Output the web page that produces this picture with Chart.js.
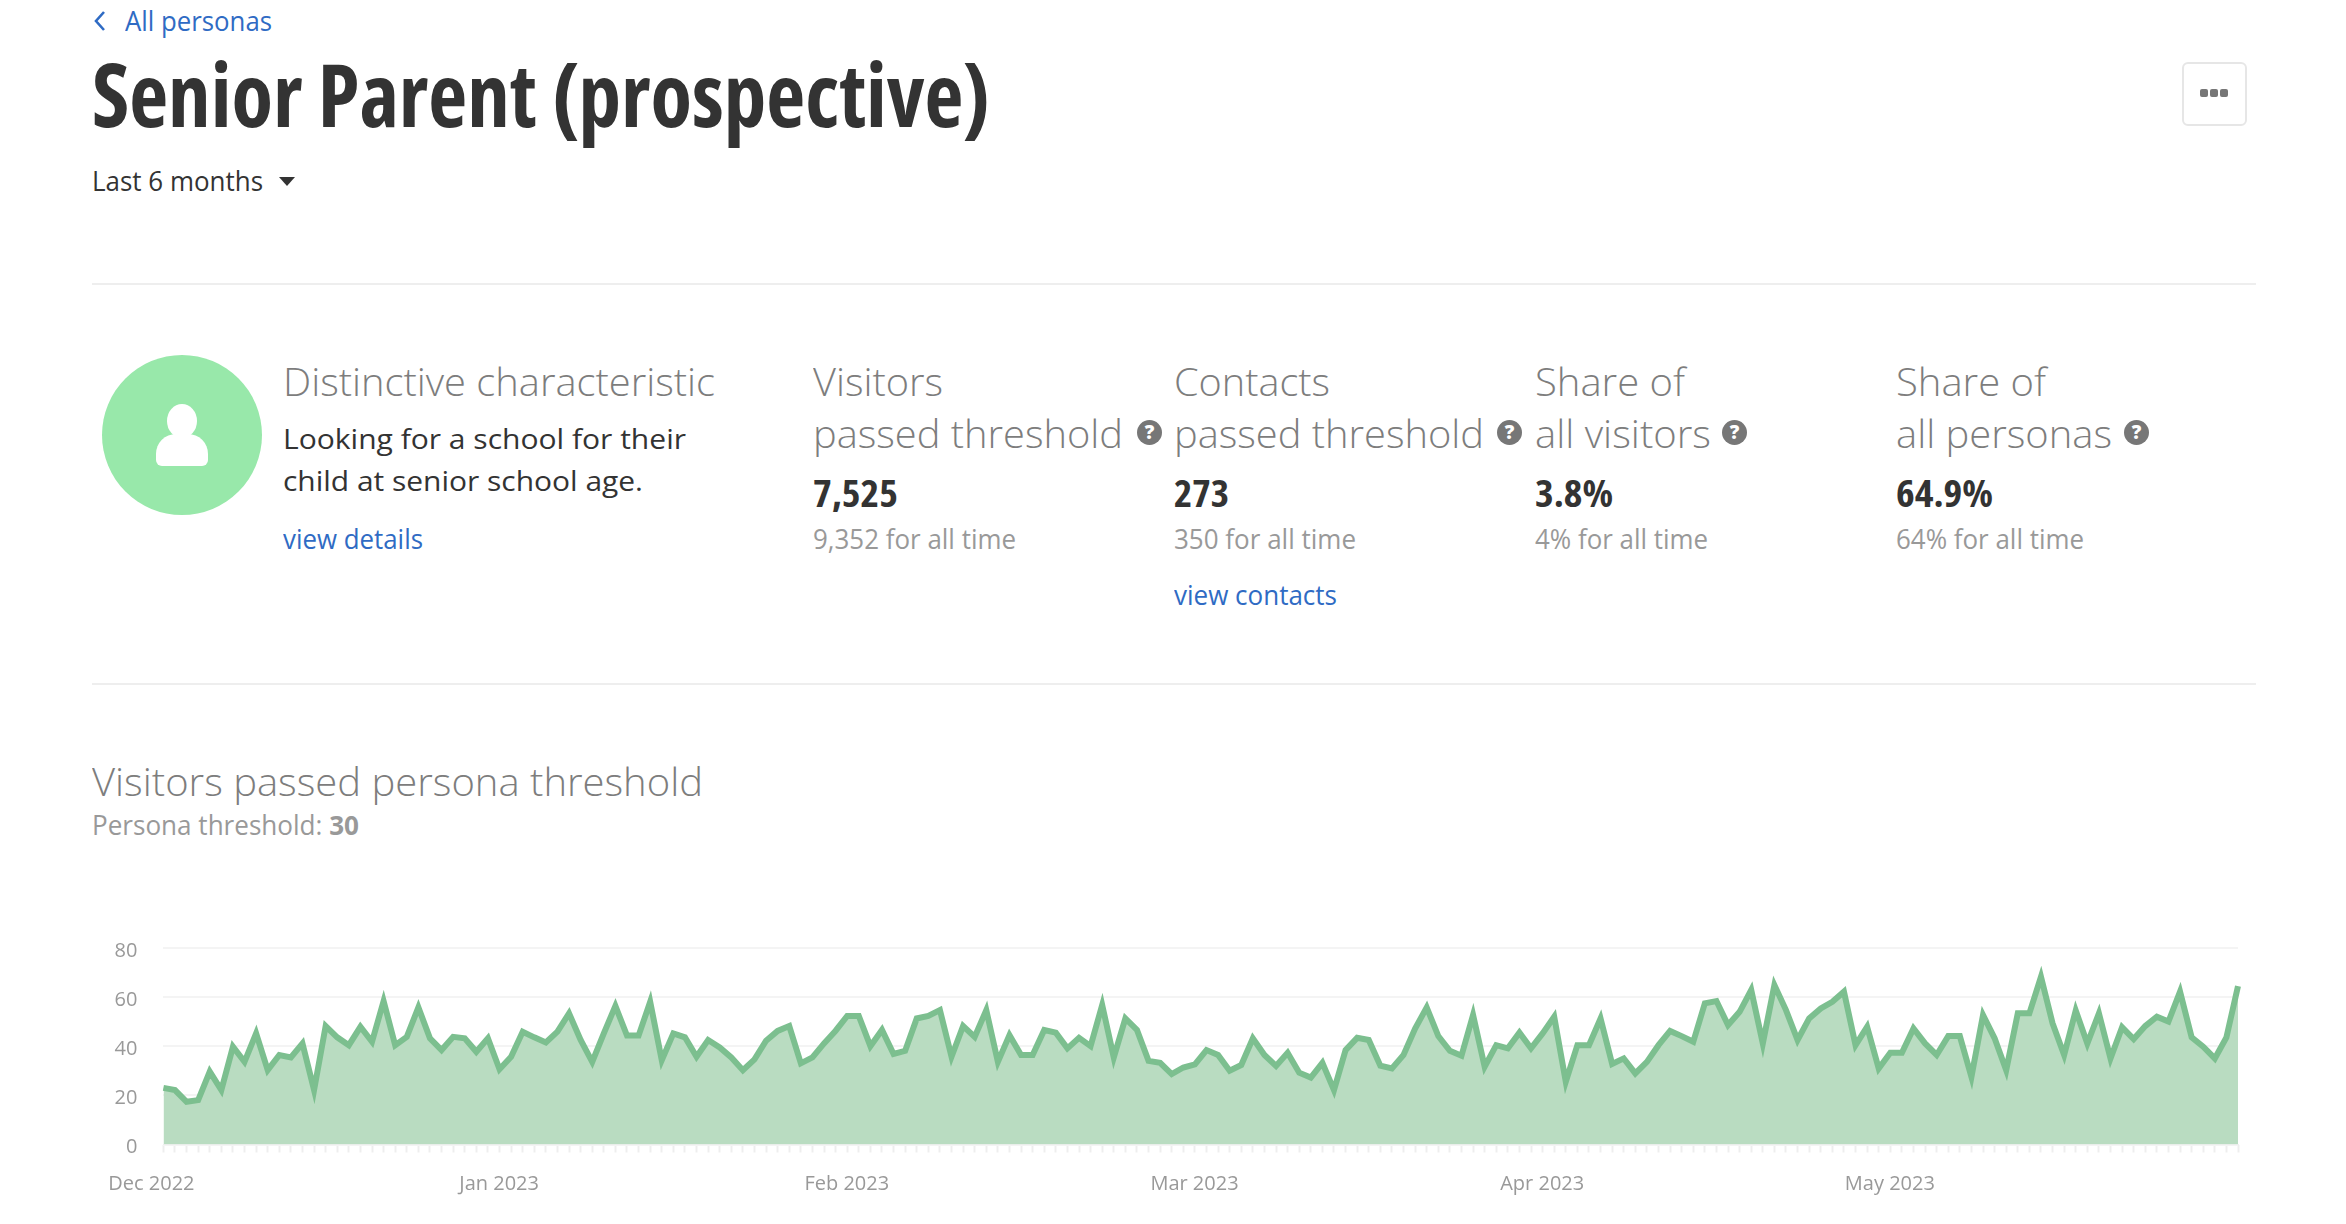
<!DOCTYPE html>
<html>
<head>
<meta charset="utf-8">
<title>Senior Parent (prospective)</title>
<script src="https://cdn.jsdelivr.net/npm/chart.js@4"></script>
<style>
  html, body { margin: 0; padding: 0; background: #fff; overflow: hidden; }
  body { width: 2346px; height: 1224px; position: relative; font-family: "Open Sans", sans-serif; }
  .txt { position: absolute; white-space: nowrap; line-height: 0; transform-origin: left center; }
  .rule { position: absolute; left: 92px; width: 2164px; height: 2px; background: #eeeeee; }
  .help { position: absolute; width: 25px; height: 25px; border-radius: 50%; background: #777; color: #fff;
          font-size: 19px; font-weight: 800; line-height: 25px; text-align: center; }
  .abs { position: absolute; }
  #chartBox { position: absolute; left: 90px; top: 930px; width: 2170px; height: 270px; }
</style>
</head>
<body>
<svg class="abs" style="left:92px;top:9px" width="16" height="24">
  <polyline points="12,3 4,12 12,21" fill="none" stroke="#2f6bc4" stroke-width="2.6"/>
</svg>
<div class="abs" style="left:279px;top:177px;width:0;height:0;border-left:8px solid transparent;border-right:8px solid transparent;border-top:9px solid #333"></div>
<div class="rule" style="top:283px"></div>
<div class="rule" style="top:683px"></div>

<div class="abs" style="left:102px;top:355px;width:160px;height:160px;border-radius:50%;background:#98e8aa"></div>
<div class="abs" style="left:167px;top:404px;width:30px;height:34px;border-radius:50%;background:#fff"></div>
<div class="abs" style="left:156px;top:434px;width:52px;height:32px;border-radius:20px 20px 6px 6px;background:#fff"></div>

<div class="abs" style="left:2182px;top:62px;width:61px;height:60px;border:2px solid #e6e6e6;border-radius:6px"></div>
<div class="abs" style="left:2200px;top:89px;width:8px;height:8px;border-radius:2px;background:#777"></div>
<div class="abs" style="left:2210px;top:89px;width:8px;height:8px;border-radius:2px;background:#777"></div>
<div class="abs" style="left:2220px;top:89px;width:8px;height:8px;border-radius:2px;background:#777"></div>

<div class="help" style="left:1137px;top:420px">?</div>
<div class="help" style="left:1497px;top:420px">?</div>
<div class="help" style="left:1722px;top:420px">?</div>
<div class="help" style="left:2124px;top:420px">?</div>

<div id="chartBox"><canvas id="visitorsChart" width="2170" height="270"></canvas></div>

<script>
const monthTicks = ["Dec 2022", "Jan 2023", "Feb 2023", "Mar 2023", "Apr 2023", "May 2023"];
const yTicks = [0, 20, 40, 60, 80];
const visitors = [
    23.1, 22.2, 17.4, 18.1, 29.7, 22.2, 39.9, 33.7, 45.3, 30.3,
    36.5, 35.5, 41.2, 22.2, 48.3, 43.7, 40.5, 48, 41.9, 58.5,
    40.5, 43.9, 55.9, 43.3, 38.5, 43.9, 43.3, 37.8, 43.3, 30.7,
    35.8, 46, 43.7, 41.6, 46, 53.5, 42.6, 33.7, 45.3, 56.5,
    44.4, 44.4, 58.2, 34.4, 45.3, 43.7, 35.8, 42.6, 39.6, 35.5,
    30.3, 34.7, 42.3, 46.3, 48.3, 33.1, 35.5, 41.2, 46.4, 52.4,
    52.4, 40.1, 46.7, 36.9, 38.2, 51.4, 52.4, 54.8, 35.8, 48.3,
    43.9, 54.8, 33.7, 44.6, 36.5, 36.5, 46.7, 45.6, 39.2, 43.5,
    40.1, 56.9, 35.5, 51.4, 46.7, 34.1, 33.3, 28.7, 31.4, 32.7,
    38.5, 36.5, 30.1, 32.4, 43.3, 36.5, 32, 37.4, 29.3, 27.3,
    33.3, 22.2, 38.5, 43.5, 42.6, 32.1, 31, 36.5, 47.3, 55.9,
    44.2, 38.2, 36.2, 52.8, 31.7, 40.5, 39.2, 45.6, 39.2, 45.3,
    52.1, 25.6, 40.5, 40.5, 51.4, 32.8, 35.1, 29, 33.7, 40.5,
    46.3, 44.2, 41.9, 57.6, 58.5, 48.7, 54.1, 63, 41.2, 65,
    54.8, 42.6, 51.4, 55.5, 58.2, 62.3, 40.5, 48, 31, 37.4,
    37.4, 47.3, 41.2, 36.5, 44.2, 44.2, 27.6, 52.8, 43.3, 30.3,
    53.5, 53.5, 68.4, 49.4, 36.5, 54.6, 41.2, 53.5, 35.1, 47.8,
    43, 48.3, 52.1, 50.1, 62.3, 43.7, 39.9, 35.1, 43.7, 64.6
];
// one month label every 30 days, the rest of the ticks are blank
const categories = visitors.map((v, i) => i % 30 === 0 ? monthTicks[i / 30] : "");

// text goes on by baseline, then gets squeezed to the width measured in the picture
function label(text, x, baseline, width, size, weight, color, condensed) {
    const el = document.createElement("div");
    el.className = "txt";
    el.innerHTML = text;
    el.style.left = x + "px";
    el.style.top = (baseline - size * 0.388) + "px";
    el.style.fontSize = size + "px";
    el.style.fontWeight = weight;
    el.style.color = color;
    if (condensed) el.style.fontStretch = "75%";
    document.body.appendChild(el);
    el.style.transform = "scaleX(" + (width / el.getBoundingClientRect().width) + ")";
}

const blue = "#2f6bc4", dark = "#333333", grey = "#7d7d7d", pale = "#999999";
label("All personas", 125, 31, 147, 27, 400, blue);
label("Senior Parent (prospective)", 92, 127, 898, 87, 700, dark, true);
label("Last 6 months", 92, 191, 171, 27, 400, dark);

label("Distinctive characteristic", 283, 395.5, 432, 38, 300, grey);
label("Looking for a school for their", 283, 449, 403, 27, 400, dark);
label("child at senior school age.", 283, 491, 360, 27, 400, dark);
label("view details", 283, 549.5, 140, 27, 400, blue);

label("Visitors", 813, 395.5, 130, 38, 300, grey);
label("passed threshold", 813, 447.5, 310, 38, 300, grey);
label("7,525", 813, 507, 85, 38, 700, dark, true);
label("9,352 for all time", 813, 549.5, 203, 27, 400, pale);

label("Contacts", 1174, 395.5, 156, 38, 300, grey);
label("passed threshold", 1174, 447.5, 310, 38, 300, grey);
label("273", 1174, 507, 55, 38, 700, dark, true);
label("350 for all time", 1174, 549.5, 182, 27, 400, pale);
label("view contacts", 1174, 605.5, 163, 27, 400, blue);

label("Share of", 1535, 395.5, 150, 38, 300, grey);
label("all visitors", 1535, 447.5, 176, 38, 300, grey);
label("3.8%", 1535, 507, 78, 38, 700, dark, true);
label("4% for all time", 1535, 549.5, 173, 27, 400, pale);

label("Share of", 1896, 395.5, 150, 38, 300, grey);
label("all personas", 1896, 447.5, 216, 38, 300, grey);
label("64.9%", 1896, 507, 97, 38, 700, dark, true);
label("64% for all time", 1896, 549.5, 188, 27, 400, pale);

label("Visitors passed persona threshold", 92, 796, 611, 38, 300, grey);
label("Persona threshold: <b>30</b>", 92, 835.5, 267, 27, 400, pale);

new Chart(document.getElementById("visitorsChart"), {
    type: "line",
    data: {
        labels: categories,
        datasets: [{
            data: visitors,
            borderColor: "#7cbf8f",
            backgroundColor: "#b9dcc1",
            borderWidth: 6,
            borderJoinStyle: "miter",
            borderCapStyle: "butt",
            pointRadius: 0,
            tension: 0,
            fill: "origin",
            clip: false
        }]
    },
    options: {
        responsive: false,
        animation: false,
        layout: { padding: { top: 18.3, right: 22, bottom: 0.5, left: 0 } },
        plugins: { legend: { display: false }, tooltip: { enabled: false } },
        scales: {
            x: {
                offset: false,
                afterFit: s => { s.height = 55; s.paddingLeft = 0; s.paddingRight = 0; },
                grid: { drawOnChartArea: false, drawTicks: true, tickLength: 8, tickColor: "#eeeeee", tickWidth: 2 },
                border: { display: true, color: "#f0f0f0", width: 1 },
                ticks: {
                    autoSkip: false, maxRotation: 0, minRotation: 0, labelOffset: -12, padding: 20,
                    color: "#999999", font: { family: "Open Sans", size: 20 }
                }
            },
            y: {
                min: 0,
                max: 80,
                afterFit: s => { s.width = 73.4; s.paddingTop = 0; s.paddingBottom = 0; },
                afterBuildTicks: s => { s.ticks = yTicks.map(v => ({ value: v })); },
                grid: { color: "#f4f4f4", lineWidth: 2, drawTicks: false },
                border: { display: false },
                ticks: { padding: 26, labelOffset: 3, color: "#999999", font: { family: "Open Sans", size: 20 } }
            }
        }
    }
});
</script>
</body>
</html>
